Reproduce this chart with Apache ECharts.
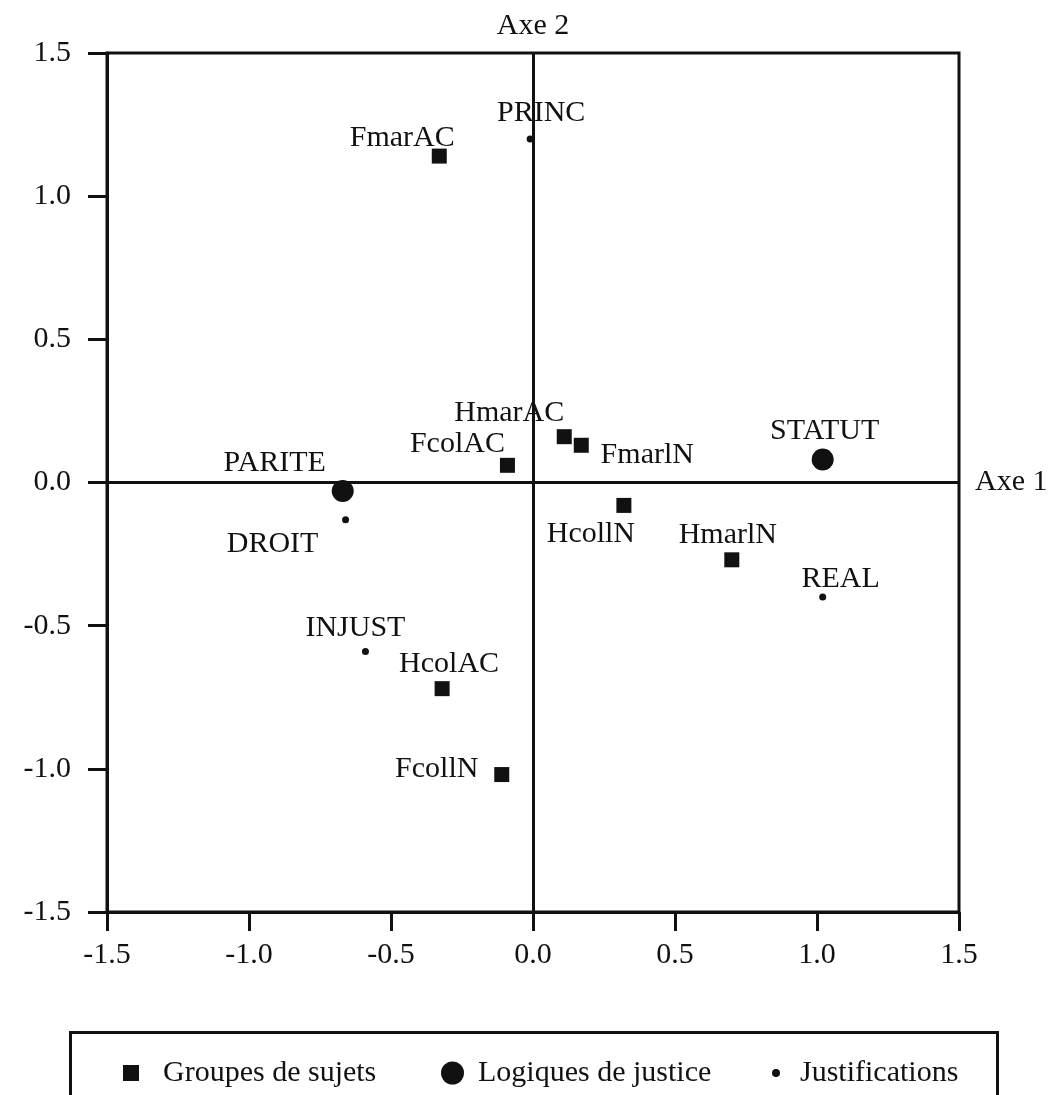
<!DOCTYPE html>
<html>
<head>
<meta charset="utf-8">
<script src="https://cdn.jsdelivr.net/npm/echarts@6/dist/echarts.min.js"></script>
<style>
html,body{margin:0;padding:0;background:#fff;}
#chart{width:1050px;height:1095px;}
</style>
</head>
<body>
<div id="chart"></div>
<script>
// ---- data ----
const seriesNames = ['Groupes de sujets', 'Logiques de justice', 'Justifications'];
const axisNames = ['Axe 1', 'Axe 2'];
const axisMin = -1.5, axisMax = 1.5, axisStep = 0.5;

const groupNames = ['FmarAC', 'HmarAC', 'FmarlN', 'FcolAC', 'HcollN', 'HmarlN', 'HcolAC', 'FcollN'];
const groupX = [-0.33, 0.11, 0.17, -0.09, 0.32, 0.70, -0.32, -0.11];
const groupY = [1.14, 0.16, 0.13, 0.06, -0.08, -0.27, -0.72, -1.02];

const logicNames = ['PARITE', 'STATUT'];
const logicX = [-0.67, 1.02];
const logicY = [-0.03, 0.08];

const justNames = ['PRINC', 'DROIT', 'REAL', 'INJUST'];
const justX = [-0.01, -0.66, 1.02, -0.59];
const justY = [1.20, -0.13, -0.40, -0.59];

// ---- label placement (style, kept apart from data) ----
const labelOffsets = {
  FmarAC: [-37, -18], PRINC: [11, -26], HmarAC: [-55, -24], FmarlN: [66, 10],
  FcolAC: [-50, -21], PARITE: [-68, -28], DROIT: [-73, 24], HcollN: [-33, 29],
  STATUT: [2, -28], HmarlN: [-4, -25], REAL: [18, -18], INJUST: [-10, -23],
  HcolAC: [7, -25], FcollN: [-65, -5]
};

const INK = '#111111';
const FONT = "'Liberation Serif', 'DejaVu Serif', serif";
const FS = 30;

function build(names, xs, ys) {
  return names.map((n, i) => ({
    name: n,
    value: [xs[i], ys[i]],
    label: { offset: labelOffsets[n] || [0, 0] }
  }));
}

const pointLabel = {
  show: true, position: 'inside', formatter: '{b}',
  color: INK, fontFamily: FONT, fontSize: FS, align: 'center', verticalAlign: 'middle'
};
const pointStyle = { color: INK, opacity: 1 };

const chart = echarts.init(document.getElementById('chart'), null, { renderer: 'canvas' });

const axisCommon = {
  type: 'value', min: axisMin, max: axisMax, interval: axisStep,
  axisLine: { show: true, onZero: false, lineStyle: { color: INK, width: 3 } },
  axisTick: { show: true, inside: false, length: 19, lineStyle: { color: INK, width: 3 } },
  splitLine: { show: false },
  axisLabel: { color: INK, fontFamily: FONT, fontSize: FS, formatter: v => v.toFixed(1) }
};

const legendCommon = {
  top: 1058, padding: 0, orient: 'horizontal',
  textStyle: { color: INK, fontFamily: FONT, fontSize: FS },
  selectedMode: false
};

chart.setOption({
  animation: false,
  backgroundColor: '#fff',
  grid: { left: 107, right: 91, top: 53, bottom: 183, show: true, borderColor: INK, borderWidth: 3, backgroundColor: 'transparent' },
  xAxis: Object.assign({}, axisCommon, {
    position: 'bottom',
    axisLabel: Object.assign({}, axisCommon.axisLabel, { margin: 28 })
  }),
  yAxis: Object.assign({}, axisCommon, {
    position: 'left',
    axisLabel: Object.assign({}, axisCommon.axisLabel, { margin: 36 })
  }),
  legend: [
    Object.assign({}, legendCommon, {
      left: 123, itemWidth: 16, itemHeight: 16,
      data: [{ name: seriesNames[0], icon: 'rect' }],
      textStyle: Object.assign({}, legendCommon.textStyle, { padding: [0, 0, 0, 19] })
    }),
    Object.assign({}, legendCommon, {
      left: 441, itemWidth: 23, itemHeight: 23,
      data: [{ name: seriesNames[1], icon: 'circle' }],
      textStyle: Object.assign({}, legendCommon.textStyle, { padding: [0, 0, 0, 9] })
    }),
    Object.assign({}, legendCommon, {
      left: 772, itemWidth: 8, itemHeight: 8,
      data: [{ name: seriesNames[2], icon: 'circle' }],
      textStyle: Object.assign({}, legendCommon.textStyle, { padding: [0, 0, 0, 15] })
    })
  ],
  graphic: [{
    type: 'rect', left: 68, top: 1030, silent: true,
    shape: { width: 927, height: 120 },
    style: { fill: 'none', stroke: INK, lineWidth: 3 }
  }],
  series: [
    {
      name: seriesNames[0], type: 'scatter', symbol: 'rect', symbolSize: 15,
      itemStyle: pointStyle, label: pointLabel,
      data: build(groupNames, groupX, groupY),
      z: 3,
      markLine: {
        silent: true, symbol: ['none', 'none'], animation: false,
        lineStyle: { color: INK, width: 3, type: 'solid', opacity: 1 },
        emphasis: { disabled: true },
        label: { show: true, position: 'end', color: INK, fontFamily: FONT, fontSize: FS },
        data: [
          { xAxis: 0, label: { formatter: axisNames[1], distance: 12 } },
          { yAxis: 0, label: { formatter: axisNames[0], distance: 16, padding: [10, 0, 0, 0] } }
        ]
      }
    },
    {
      name: seriesNames[1], type: 'scatter', symbol: 'circle', symbolSize: 22,
      itemStyle: pointStyle, label: pointLabel,
      data: build(logicNames, logicX, logicY), z: 4
    },
    {
      name: seriesNames[2], type: 'scatter', symbol: 'circle', symbolSize: 7,
      itemStyle: pointStyle, label: pointLabel,
      data: build(justNames, justX, justY), z: 4
    }
  ]
});
</script>
</body>
</html>
